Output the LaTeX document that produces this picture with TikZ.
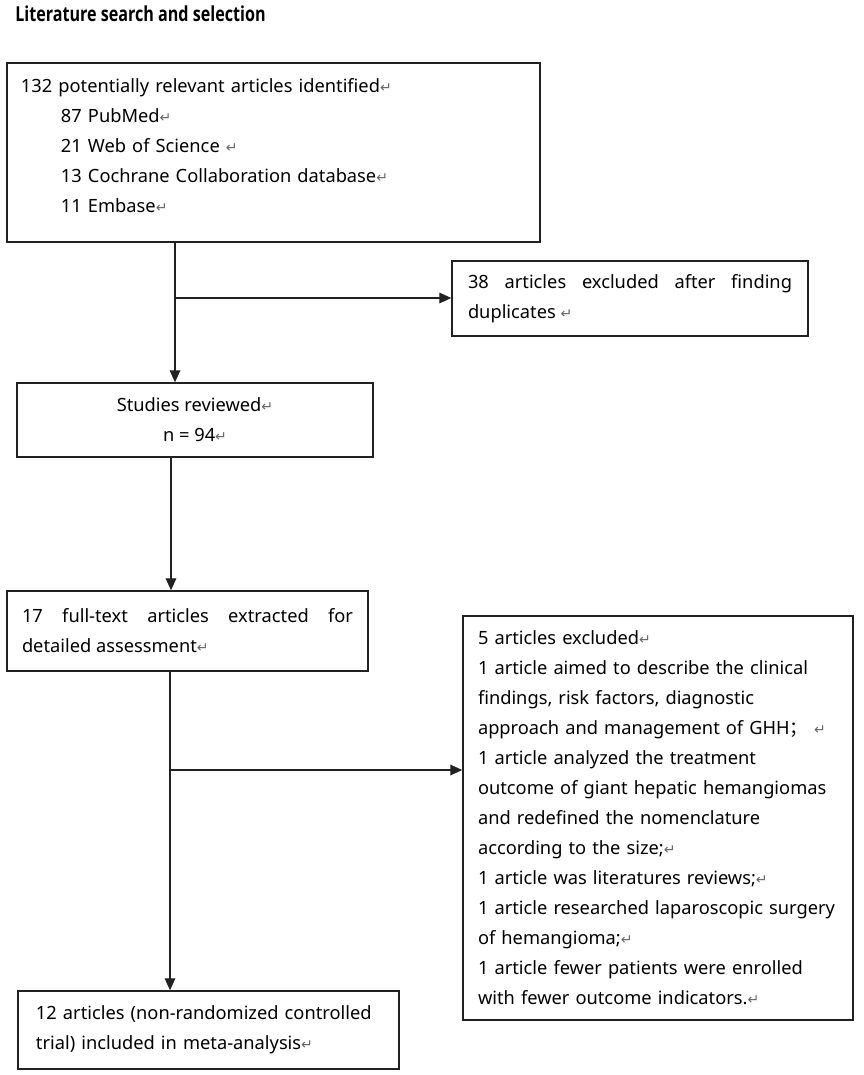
\documentclass[tikz,border=0pt]{standalone}
\usepackage{fontspec}
\setmainfont{Noto Sans}
\newfontfamily\symfont{DejaVu Sans}
\newfontfamily\cjkfont{Noto Sans CJK SC}
\newfontfamily\titlefont{Open Sans}
\usetikzlibrary{arrows.meta}

\newlength{\du}
\setlength{\du}{0.75pt}
\definecolor{dialinecolor}{rgb}{0.130000, 0.130000, 0.130000}
\definecolor{retcolor}{rgb}{0.400000, 0.400000, 0.400000}
\newcommand{\ret}{{\symfont\fontsize{10.5}{10.5}\selectfont\color{retcolor}↵}}

\begin{document}
\begin{tikzpicture}[
  box/.style={draw=dialinecolor, line width=1.1pt, inner sep=0pt, text=black,
    font=\fontsize{13.7}{22.5}\selectfont},
  flow/.style={draw=dialinecolor, line width=0.9pt, -{Triangle[length=9pt,width=8pt]}}]
\pgftransformxscale{1.000000}
\pgftransformyscale{-1.000000}
\useasboundingbox (0\du,0\du) rectangle (864\du,1075\du);
% title
\node[anchor=west, inner sep=0pt] (title) at (15\du,14\du){\scalebox{0.78}[1]{\titlefont\bfseries\fontsize{15.5}{17}\selectfont Literature search and selection}};
% identification
\node[box, minimum width=533\du, minimum height=179\du, text width=505\du, align=left] (search) at (273.5\du,152.5\du){132 potentially relevant articles identified\ret\\
\hspace*{30pt}87 PubMed\ret\\
\hspace*{30pt}21 Web of Science \ret\\
\hspace*{30pt}13 Cochrane Collaboration database\ret\\
\hspace*{30pt}11 Embase\ret\rule[-11pt]{0pt}{11pt}};
\node[box, minimum width=356\du, minimum height=75\du, text width=324\du, align=justify] (dup) at (630\du,298.5\du){38 articles excluded after finding\linebreak duplicates \ret};
% screening
\node[box, minimum width=356\du, minimum height=74\du, align=center] (reviewed) at (195\du,420\du){Studies reviewed\ret\\ n = 94\ret};
\node[box, minimum width=361\du, minimum height=80\du, text width=331\du, align=justify] (fulltext) at (187.5\du,631\du){17 full-text articles extracted for\linebreak detailed assessment\ret};
\node[box, minimum width=390\du, minimum height=404\du, text width=360\du, align=left] (excluded) at (658\du,818\du){5 articles excluded\ret\\
1 article aimed to describe the clinical\\
findings, risk factors, diagnostic\\
approach and management of GHH{\cjkfont ；} \ret\\
1 article analyzed the treatment\\
outcome of giant hepatic hemangiomas\\
and redefined the nomenclature\\
according to the size;\ret\\
1 article was literatures reviews;\ret\\
1 article researched laparoscopic surgery\\
of hemangioma;\ret\\
1 article fewer patients were enrolled\\
with fewer outcome indicators.\ret};
% inclusion
\node[box, minimum width=381\du, minimum height=78\du, text width=345\du, align=left] (included) at (208.5\du,1030\du){12 articles (non-randomized controlled\\ trial) included in meta-analysis\ret};
% connectors
\coordinate (trunkA) at (175\du,298\du);
\coordinate (trunkB) at (171\du,520\du);
\coordinate (trunkC) at (170\du,770\du);
\draw[flow] (search.south -| trunkA) -- (reviewed.north -| trunkA);
\draw[flow] (trunkA) -- (trunkA -| dup.west);
\draw[flow] (reviewed.south -| trunkB) -- (fulltext.north -| trunkB);
\draw[flow] (fulltext.south -| trunkC) -- (included.north -| trunkC);
\draw[flow] (trunkC) -- (trunkC -| excluded.west);
\end{tikzpicture}
\end{document}
